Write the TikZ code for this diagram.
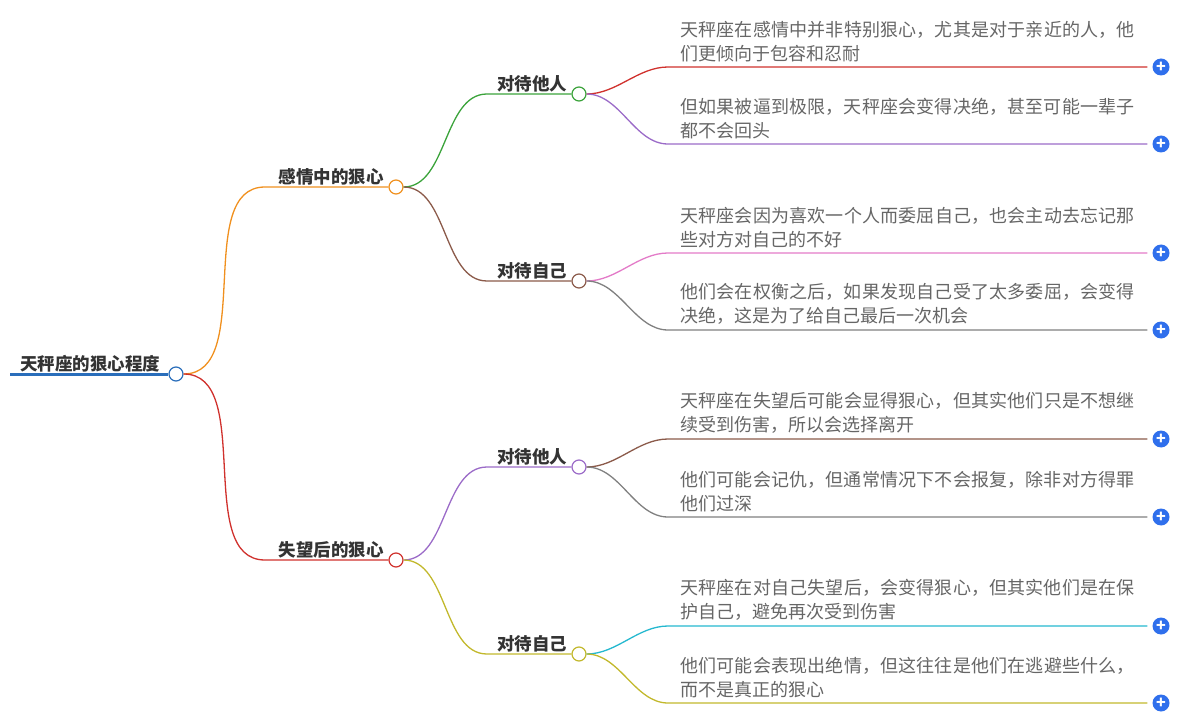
\documentclass[tikz,border=0pt]{standalone}
\usepackage{fontspec}
\setmainfont{Noto Sans CJK SC}
\XeTeXlinebreaklocale "zh"
\XeTeXlinebreakskip=0pt plus 1pt
\usetikzlibrary{positioning,calc}
\definecolor{rootblue}{HTML}{2A6EBB}
\definecolor{orng}{HTML}{F0901E}
\definecolor{redd}{HTML}{D0312D}
\definecolor{grn}{HTML}{3BA33B}
\definecolor{brwn}{HTML}{8B5A4A}
\definecolor{purp}{HTML}{9B6BC8}
\definecolor{olive}{HTML}{C2B82C}
\definecolor{pinkk}{HTML}{E37BC8}
\definecolor{grayy}{HTML}{808080}
\definecolor{cyann}{HTML}{25B8CF}
\definecolor{plusblue}{HTML}{2F6FEC}
\definecolor{txtgray}{HTML}{666666}
\tikzset{
  lnk/.style={line width=1.3pt},
  dot/.style={circle, draw=#1, fill=white, line width=1.2pt, minimum size=14pt, inner sep=0pt},
  topic/.style={font=\fontsize{17.5}{20}\selectfont\bfseries, text=black!80, anchor=south, inner sep=2pt},
  leaf/.style={font=\fontsize{18}{24}\selectfont, text=txtgray, text width=462pt, align=left,
    anchor=south west, inner sep=0pt},
  plus/.style={circle, fill=plusblue, minimum size=17pt, inner sep=0pt, text=white,
    font=\bfseries\fontsize{16}{16}\selectfont},
  sc/.style={out=0, in=180, looseness=0.9},
}
\begin{document}
\begin{tikzpicture}[x=1pt, y=-1pt]
\useasboundingbox (0,0) rectangle (1186,719);

% root
\coordinate (R0) at (10,374);
\node[dot=rootblue] (R) at (176,374) {};
\draw[rootblue, line width=3pt] (R0) -- (R.west);
\node[topic, anchor=south west] at (18,374) {天秤座的狠心程度};

% level 1
\node[dot=orng] (A) at (396,187) {};
\node[dot=redd] (B) at (396,560) {};
\coordinate (Aa) at (265,187);
\coordinate (Ba) at (265,560);
\draw[lnk, orng] (R.east) to[sc] (Aa) -- (A.west);
\draw[lnk, redd] (R.east) to[sc] (Ba) -- (B.west);
\node[topic] at (331,187) {感情中的狠心};
\node[topic] at (331,560) {失望后的狠心};

% level 2
\node[dot=grn]   (A1) at (579,94) {};
\node[dot=brwn]  (A2) at (579,281) {};
\node[dot=purp]  (B1) at (579,467) {};
\node[dot=olive] (B2) at (579,654) {};
\coordinate (A1a) at (487,94);
\coordinate (A2a) at (487,281);
\coordinate (B1a) at (487,467);
\coordinate (B2a) at (487,654);
\draw[lnk, grn]   (A.east) to[sc] (A1a) -- (A1.west);
\draw[lnk, brwn]  (A.east) to[sc] (A2a) -- (A2.west);
\draw[lnk, purp]  (B.east) to[sc] (B1a) -- (B1.west);
\draw[lnk, olive] (B.east) to[sc] (B2a) -- (B2.west);
\node[topic] at (532,94) {对待他人};
\node[topic] at (532,281) {对待自己};
\node[topic] at (532,467) {对待他人};
\node[topic] at (532,654) {对待自己};

% leaves
\foreach \nm/\pa/\y/\col/\txt in {
  L1/A1/67/redd/{天秤座在感情中并非特别狠心，尤其是对于亲近的人，他们更倾向于包容和忍耐},
  L2/A1/144/purp/{但如果被逼到极限，天秤座会变得决绝，甚至可能一辈子都不会回头},
  L3/A2/253/pinkk/{天秤座会因为喜欢一个人而委屈自己，也会主动去忘记那些对方对自己的不好},
  L4/A2/330/grayy/{他们会在权衡之后，如果发现自己受了太多委屈，会变得决绝，这是为了给自己最后一次机会},
  L5/B1/439/brwn/{天秤座在失望后可能会显得狠心，但其实他们只是不想继续受到伤害，所以会选择离开},
  L6/B1/517/grayy/{他们可能会记仇，但通常情况下不会报复，除非对方得罪他们过深},
  L7/B2/626/cyann/{天秤座在对自己失望后，会变得狠心，但其实他们是在保护自己，避免再次受到伤害},
  L8/B2/703/olive/{他们可能会表现出绝情，但这往往是他们在逃避些什么，而不是真正的狠心}}{
  \coordinate (\nm a) at (668,\y);
  \node[plus] (\nm p) at (1161,\y) {+};
  \draw[lnk, \col] (\pa.east) to[sc] (\nm a) -- ([xshift=-5pt]\nm p.west);
  \node[leaf] (\nm) at (680,\y-5) {\txt};
}
\end{tikzpicture}
\end{document}
